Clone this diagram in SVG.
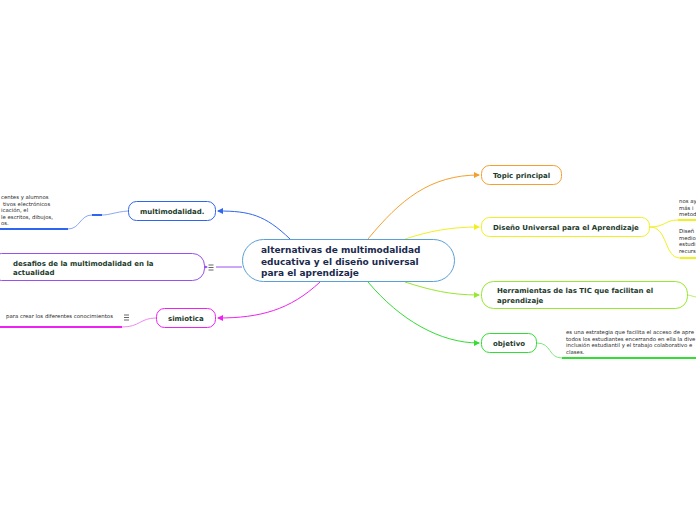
<svg xmlns="http://www.w3.org/2000/svg" width="696" height="520" viewBox="0 0 696 520">
<style>
.nt{font-family:"DejaVu Sans","Verdana",sans-serif;font-weight:bold;font-size:7px;fill:#1d3b2c}
.ct{font-family:"DejaVu Sans","Verdana",sans-serif;font-size:5.4px;fill:#2a2a2a}
.mt{font-family:"DejaVu Sans","Verdana",sans-serif;font-weight:bold;font-size:9px;fill:#1a2a4d}
.ic{fill:none;stroke:#555;stroke-width:0.9}
.c{fill:none;stroke-width:1}
</style>
<defs>
<marker id="aO" markerWidth="6" markerHeight="6" refX="5" refY="3" orient="auto" markerUnits="userSpaceOnUse"><path d="M0,0 L6,3 L0,6 Z" fill="#f5a02e"/></marker>
<marker id="aY" markerWidth="6" markerHeight="6" refX="5" refY="3" orient="auto" markerUnits="userSpaceOnUse"><path d="M0,0 L6,3 L0,6 Z" fill="#f0f020"/></marker>
<marker id="aL" markerWidth="6" markerHeight="6" refX="5" refY="3" orient="auto" markerUnits="userSpaceOnUse"><path d="M0,0 L6,3 L0,6 Z" fill="#96e830"/></marker>
<marker id="aG" markerWidth="6" markerHeight="6" refX="5" refY="3" orient="auto" markerUnits="userSpaceOnUse"><path d="M0,0 L6,3 L0,6 Z" fill="#33dd33"/></marker>
<marker id="aB" markerWidth="6" markerHeight="6" refX="5" refY="3" orient="auto" markerUnits="userSpaceOnUse"><path d="M0,0 L6,3 L0,6 Z" fill="#2f66f0"/></marker>
<marker id="aP" markerWidth="6" markerHeight="6" refX="5" refY="3" orient="auto" markerUnits="userSpaceOnUse"><path d="M0,0 L6,3 L0,6 Z" fill="#9850ee"/></marker>
<marker id="aM" markerWidth="6" markerHeight="6" refX="5" refY="3" orient="auto" markerUnits="userSpaceOnUse"><path d="M0,0 L6,3 L0,6 Z" fill="#ee22ee"/></marker>
</defs>
<rect width="696" height="520" fill="#fff"/>
<g id="connectors">
<path class="c" d="M368,239 C400,200 430,175 479,175" stroke="#f5a02e" marker-end="url(#aO)"/>
<path class="c" d="M405,239 C430,231 450,227 479,227" stroke="#f0f020" marker-end="url(#aY)"/>
<path class="c" d="M405,282 C430,290 450,295 479,295" stroke="#96e830" marker-end="url(#aL)"/>
<path class="c" d="M368,282 C400,320 440,343 479,343" stroke="#33dd33" marker-end="url(#aG)"/>
<path class="c" d="M290,239 C265,215 250,211 218,211" stroke="#2f66f0" marker-end="url(#aB)"/>
<path class="c" d="M242,267 L216,267" stroke="#9850ee"/>
<path class="c" d="M206,267 L207,267" stroke="#9850ee" marker-end="url(#aP)"/>
<path class="c" d="M320,282 C290,310 260,318 218,318" stroke="#ee22ee" marker-end="url(#aM)"/>
<path class="c" d="M128,211 C115,212 110,215 102,215" stroke="#8aa8f5"/>
<path d="M92,215 L102,215" stroke="#2f66f0" stroke-width="2"/>
<path class="c" d="M92,215 C80,215 80,229 68,229" stroke="#8aa8f5"/>
<path d="M0,229 L68,229" stroke="#2f66f0" stroke-width="2"/>
<path class="c" d="M156,318 C140,318 140,327 122,327" stroke="#f08af0"/>
<path d="M0,327 L122,327" stroke="#ee22ee" stroke-width="2"/>
<path class="c" d="M650,227 C665,227 665,220 678,220" stroke="#f0f020"/>
<path d="M678,220 L696,220" stroke="#f0f020" stroke-width="2"/>
<path class="c" d="M650,227 C668,227 664,258 680,258" stroke="#f0f020"/>
<path d="M680,258 L696,258" stroke="#f0f020" stroke-width="2"/>
<path class="c" d="M688,295 L696,297" stroke="#b8f070"/>
<path class="c" d="M537,343 C552,343 548,358 562,358" stroke="#7de87d"/>
<path d="M562,358 L696,358" stroke="#33dd33" stroke-width="2"/>
</g>
<g id="central">
<rect x="242.5" y="239.5" width="212" height="42" rx="21" fill="#fff" stroke="#5aa0d8" stroke-width="1"/>
<text class="mt" x="261" y="253">alternativas de multimodalidad</text>
<text class="mt" x="261" y="264.5">educativa y el diseño universal</text>
<text class="mt" x="261" y="276">para el aprendizaje</text>
</g>
<g id="topic">
<rect x="481.5" y="165.5" width="80" height="19" rx="8" fill="#fff" stroke="#f5a02e"/>
<text class="nt" x="493" y="178">Topic principal</text>
</g>
<g id="dua">
<rect x="481.5" y="217.5" width="168" height="19" rx="8" fill="#fff" stroke="#f0f020"/>
<text class="nt" x="493" y="230">Diseño Universal para el Aprendizaje</text>
</g>
<g id="dua-c1">
<text class="ct" x="679" y="203">nos ay</text>
<text class="ct" x="679" y="209.5">más i</text>
<text class="ct" x="679" y="216">metod</text>
</g>
<g id="dua-c2">
<text class="ct" x="679" y="233">Diseñ</text>
<text class="ct" x="679" y="239.5">medio</text>
<text class="ct" x="679" y="246">estudi</text>
<text class="ct" x="679" y="252.5">recurs</text>
</g>
<g id="tic">
<rect x="481.5" y="281.5" width="206" height="27" rx="12" fill="#fff" stroke="#96e830"/>
<text class="nt" x="497" y="293">Herramientas de las TIC que facilitan el</text>
<text class="nt" x="497" y="302.5">aprendizaje</text>
</g>
<g id="objetivo">
<rect x="481.5" y="333.5" width="55" height="19" rx="8" fill="#fff" stroke="#33dd33"/>
<text class="nt" x="493" y="346">objetivo</text>
</g>
<g id="objetivo-c">
<text class="ct" x="566" y="334">es una estrategia que facilita el acceso de apre</text>
<text class="ct" x="566" y="340.5">todos los estudiantes encerrando en ella la dive</text>
<text class="ct" x="566" y="347">inclusión estudiantil y el trabajo colaborativo e</text>
<text class="ct" x="566" y="353.5">clases.</text>
</g>
<g id="multimodalidad">
<rect x="128.5" y="201.5" width="87" height="19" rx="8" fill="#fff" stroke="#2f66f0"/>
<text class="nt" x="140" y="214">multimodalidad.</text>
</g>
<g id="multimodalidad-c">
<text class="ct" x="1" y="199">centes y alumnos</text>
<text class="ct" x="3" y="205.5">tivos electrónicos</text>
<text class="ct" x="1" y="212">icación, el</text>
<text class="ct" x="1" y="218.5">le escritos, dibujos,</text>
<text class="ct" x="1" y="225">os.</text>
</g>
<g id="desafios">
<rect x="-10.5" y="253.5" width="215" height="27" rx="12" fill="#fff" stroke="#9850ee"/>
<text class="nt" x="13" y="266">desafios de la multimodalidad en la</text>
<text class="nt" x="13" y="275">actualidad</text>
<path class="ic" d="M208.5,265 h5 M208.5,267.5 h5 M208.5,270 h5"/>
</g>
<g id="simiotica">
<rect x="156.5" y="308.5" width="59" height="19" rx="8" fill="#fff" stroke="#ee22ee"/>
<text class="nt" x="168" y="321">simiotica</text>
<path class="ic" d="M124,315 h5 M124,317.5 h5 M124,320 h5"/>
</g>
<g id="simiotica-c">
<text class="ct" x="6" y="317.5">para crear los diferentes conocimientos</text>
</g>
</svg>
